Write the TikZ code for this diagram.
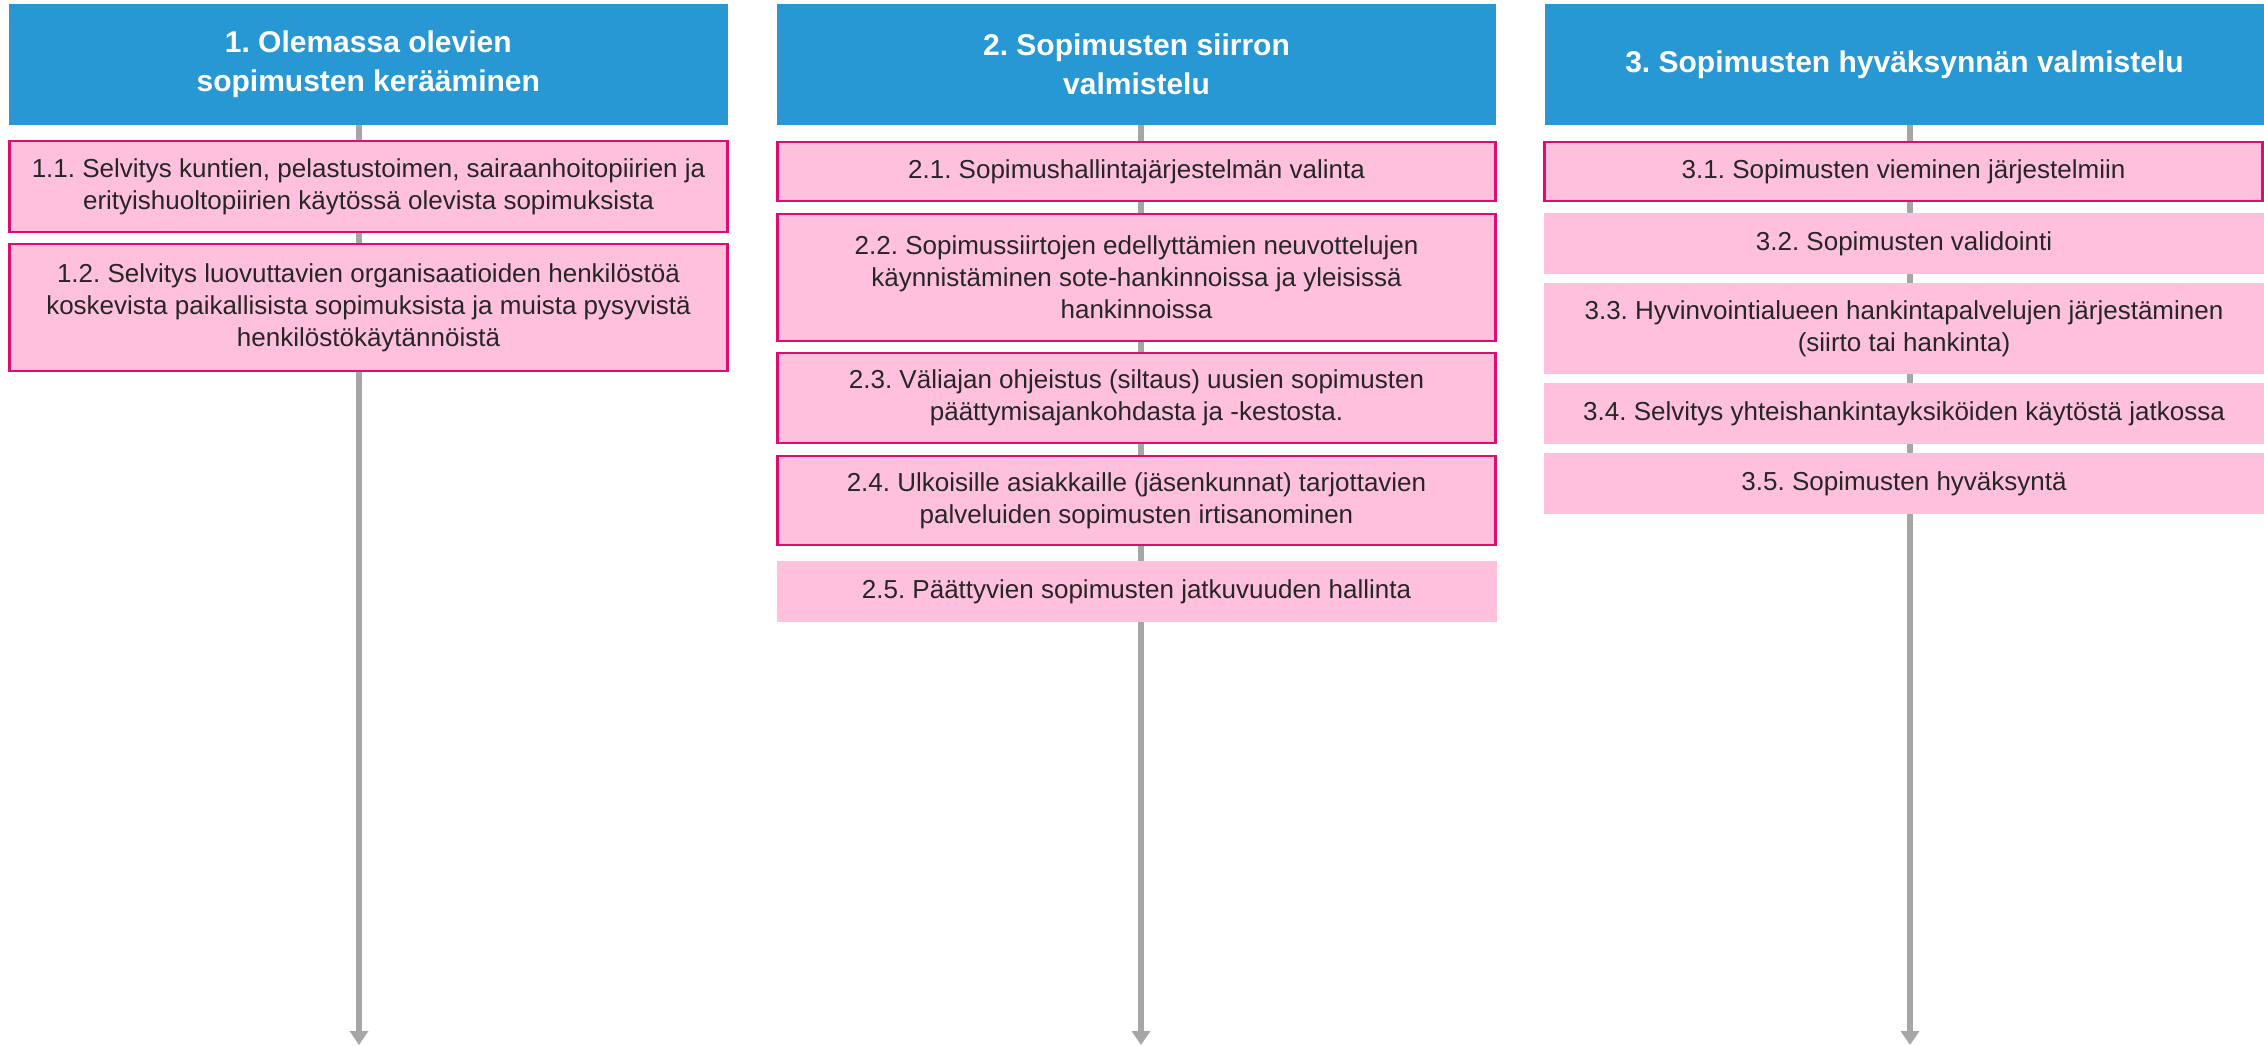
\documentclass[tikz,border=0pt]{standalone}
\usepackage{fontspec}
\setmainfont{Liberation Sans}
\usepackage{xcolor}
\usepackage{tikz}
\usetikzlibrary{arrows.meta,backgrounds}
\frenchspacing

\definecolor{headblue}{RGB}{40,152,213}
\definecolor{taskpink}{RGB}{255,192,222}
\definecolor{taskline}{RGB}{222,14,112}
\definecolor{textgray}{RGB}{38,38,38}
\definecolor{flowgray}{RGB}{166,166,166}

\begin{document}
\begin{tikzpicture}[
    x=0.5pt, y=-0.5pt,
    phase/.style={rectangle, fill=headblue, text=white, minimum width=359.5pt, minimum height=60.5pt,
        inner sep=0pt, align=center, font=\fontsize{15}{19.5}\selectfont\bfseries},
    taskplain/.style={rectangle, fill=taskpink, text=textgray, minimum width=360pt, inner sep=0pt,
        align=center, font=\fontsize{13}{16}\selectfont},
    task/.style={taskplain, draw=taskline, line width=1.25pt, minimum width=359pt},
    arrow/.style={-{Triangle[width=9pt,length=7pt]}, line width=3pt, flowgray}
]
\useasboundingbox (0,0) rectangle (2264,1045);

% Phases
\node[phase] (phase1) at (368.3,64.5) {1. Olemassa olevien\\sopimusten kerääminen};
\node[phase] (phase2) at (1136.5,64.5) {2. Sopimusten siirron\\valmistelu};
\node[phase] (phase3) at (1904.5,64.5) {3. Sopimusten hyväksynnän valmistelu};

% Phase 1 tasks
\node[task, minimum height=45.5pt] (t11) at (368.5,186.5)
    {1.1. Selvitys kuntien, pelastustoimen, sairaanhoitopiirien ja\\erityishuoltopiirien käytössä olevista sopimuksista};
\node[task, minimum height=63.5pt] (t12) at (368.5,307.5)
    {1.2. Selvitys luovuttavien organisaatioiden henkilöstöä\\koskevista paikallisista sopimuksista ja muista pysyvistä\\henkilöstökäytännöistä};

% Phase 2 tasks
\node[task, minimum height=29.5pt] (t21) at (1136.5,171.5) {2.1. Sopimushallintajärjestelmän valinta};
\node[task, minimum height=63.5pt] (t22) at (1136.5,277.5)
    {2.2. Sopimussiirtojen edellyttämien neuvottelujen\\käynnistäminen sote-hankinnoissa ja yleisissä\\hankinnoissa};
\node[task, minimum height=45pt] (t23) at (1136.5,398)
    {2.3. Väliajan ohjeistus (siltaus) uusien sopimusten\\päättymisajankohdasta ja -kestosta.};
\node[task, minimum height=44.5pt] (t24) at (1136.5,500.5)
    {2.4. Ulkoisille asiakkaille (jäsenkunnat) tarjottavien\\palveluiden sopimusten irtisanominen};
\node[taskplain, minimum height=30.5pt] (t25) at (1136.5,591.5) {2.5. Päättyvien sopimusten jatkuvuuden hallinta};

% Phase 3 tasks
\node[task, minimum height=29.5pt] (t31) at (1903.5,171.5) {3.1. Sopimusten vieminen järjestelmiin};
\node[taskplain, minimum height=30.5pt] (t32) at (1904,243.5) {3.2. Sopimusten validointi};
\node[taskplain, minimum height=45.5pt] (t33) at (1904,328.5)
    {3.3. Hyvinvointialueen hankintapalvelujen järjestäminen\\(siirto tai hankinta)};
\node[taskplain, minimum height=30.5pt] (t34) at (1904,413.5) {3.4. Selvitys yhteishankintayksiköiden käytöstä jatkossa};
\node[taskplain, minimum height=30.5pt] (t35) at (1904,483.5) {3.5. Sopimusten hyväksyntä};

% Time lines
\coordinate (end1) at (359,1045);
\coordinate (end2) at (1141,1045);
\coordinate (end3) at (1910,1045);
\begin{pgfonlayer}{background}
\draw[arrow] (phase1.south -| end1) -- (end1);
\draw[arrow] (phase2.south -| end2) -- (end2);
\draw[arrow] (phase3.south -| end3) -- (end3);
\end{pgfonlayer}

\end{tikzpicture}
\end{document}
